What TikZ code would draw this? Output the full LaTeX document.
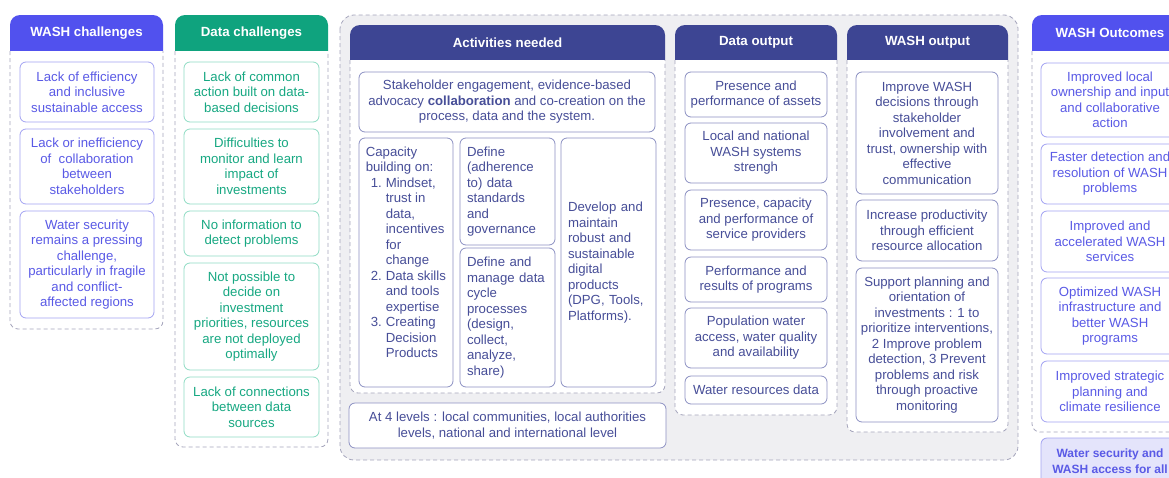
\documentclass[tikz,border=0pt]{standalone}
\usepackage{fontspec}
\setmainfont{Liberation Sans}
\usepackage{tikz}
\usepackage{color}
\definecolor{washblue}{HTML}{5151EE}
\definecolor{washtext}{HTML}{5A5AE6}
\definecolor{washline}{HTML}{A3A3F2}
\definecolor{datagreen}{HTML}{0FA37E}
\definecolor{datatext}{HTML}{17A882}
\definecolor{dataline}{HTML}{8FDCC4}
\definecolor{navy}{HTML}{3D4593}
\definecolor{navytext}{HTML}{474E98}
\definecolor{navyline}{HTML}{8C90C2}
\definecolor{dashgrey}{HTML}{A5A5BC}
\definecolor{panelgrey}{HTML}{EFEFF2}
\definecolor{goalfill}{HTML}{E4E4FB}
\begin{document}
\begin{tikzpicture}[x=1pt, y=-1pt,
        cellbox/.style={draw, fill=white, rounded corners=6pt, line width=0.8pt, align=center, inner sep=3pt, font=\fontsize{13.2}{15.5}\selectfont},
        washbox/.style={cellbox, draw=washline, text=washtext, minimum width=134},
        databox/.style={cellbox, draw=dataline, text=datatext, minimum width=135},
        navybox/.style={cellbox, draw=navyline, text=navytext},
        goalbox/.style={cellbox, draw=washline, fill=goalfill, text=washtext, font=\bfseries\fontsize{12}{15.5}\selectfont},
        headtext/.style={text=white, font=\bfseries\fontsize{13.3}{16}\selectfont},
        colframe/.style={draw=dashgrey, fill=white, line width=0.8pt, dash pattern=on 4pt off 3pt, rounded corners=8pt},
        panel/.style={draw=dashgrey, fill=panelgrey, line width=0.8pt, dash pattern=on 4pt off 3pt, rounded corners=14pt}]
        \useasboundingbox (0, 0) rectangle (1169, 477);
        \clip (0, 0) rectangle (1169, 477);

        % WASH challenges
        \fill [washblue, rounded corners=10pt] (10, 15) rectangle (163, 61);
        \filldraw [colframe] (10, 51) -- (10, 329) -- (163, 329) -- (163, 51);
        \node [headtext] at (86.5, 33) (washhead) {WASH challenges};
        \node [washbox, minimum height=60] at (87, 92) (wc1) {Lack of efficiency\\and inclusive\\sustainable access};
        \node [washbox, minimum height=75] at (87, 166.5) (wc2) {Lack or inefficiency\\of\ \ collaboration\\between\\stakeholders};
        \node [washbox, minimum height=107] at (87, 264.5) (wc3) {Water security\\remains a pressing\\challenge,\\particularly in fragile\\and conflict-\\affected regions};

        % Data challenges
        \fill [datagreen, rounded corners=10pt] (175, 15) rectangle (328, 61);
        \filldraw [colframe] (175, 51) -- (175, 447) -- (328, 447) -- (328, 51);
        \node [headtext] at (251.5, 33) (datahead) {Data challenges};
        \node [databox, minimum height=60] at (251.5, 92) (dc1) {Lack of common\\action built on data-\\based decisions};
        \node [databox, minimum height=75] at (251.5, 166.5) (dc2) {Difficulties to\\monitor and learn\\impact of\\investments};
        \node [databox, minimum height=45] at (251.5, 233.5) (dc3) {No information to\\detect problems};
        \node [databox, minimum height=107] at (251.5, 316.5) (dc4) {Not possible to\\decide on\\investment\\priorities, resources\\are not deployed\\optimally};
        \node [databox, minimum height=60] at (251.5, 407) (dc5) {Lack of connections\\between data\\sources};

        % grey panel behind the three middle columns
        \filldraw [panel] (340, 15) rectangle (1018, 460);

        % Activities needed
        \fill [navy, rounded corners=10pt] (350, 25) rectangle (665, 70);
        \filldraw [colframe] (350, 60) -- (350, 393) -- (665, 393) -- (665, 60);
        \node [headtext] at (507.5, 42.5) (acthead) {Activities needed};
        \node [navybox, minimum width=296, minimum height=60] at (507, 102) (engage) {Stakeholder engagement, evidence-based\\advocacy \textbf{collaboration} and co-creation on the\\process, data and the system.};
        \node [navybox, minimum width=94, minimum height=249] at (406, 262.5) (capacity) {};
        \node [text=navytext, align=left, anchor=north west, inner sep=3pt, font=\fontsize{13.2}{15.5}\selectfont]
            at ([shift={(4, 6)}]capacity.north west) (capacitytext)
            {Capacity\\building on:\\
            \hspace*{5pt}\makebox[15pt][l]{1.}Mindset,\\\hspace*{20pt}trust in\\\hspace*{20pt}data,\\\hspace*{20pt}incentives\\\hspace*{20pt}for\\\hspace*{20pt}change\\
            \hspace*{5pt}\makebox[15pt][l]{2.}Data skills\\\hspace*{20pt}and tools\\\hspace*{20pt}expertise\\
            \hspace*{5pt}\makebox[15pt][l]{3.}Creating\\\hspace*{20pt}Decision\\\hspace*{20pt}Products};
        \node [navybox, align=left, text width=81, minimum width=95, minimum height=107] at (507.5, 191.5) (standards) {Define\\(adherence\\to) data\\standards\\and\\governance};
        \node [navybox, align=left, text width=81, minimum width=95, minimum height=139] at (507.5, 317.5) (cycle) {Define and\\manage data\\cycle\\processes\\(design,\\collect,\\analyze,\\share)};
        \node [navybox, align=left, text width=81, minimum width=95, minimum height=249] at (608.5, 262.5) (products) {Develop and\\maintain\\robust and\\sustainable\\digital\\products\\(DPG, Tools,\\Platforms).};
        \node [navybox, minimum width=317, minimum height=45] at (507.5, 425.5) (levels) {At 4 levels : local communities, local authorities\\levels, national and international level};

        % Data output
        \fill [navy, rounded corners=10pt] (675, 25) rectangle (837, 70);
        \filldraw [colframe] (675, 60) -- (675, 415) -- (837, 415) -- (837, 60);
        \node [headtext] at (756, 42.5) (dohead) {Data output};
        \node [navybox, minimum width=142, minimum height=45] at (756, 94.5) (do1) {Presence and\\performance of assets};
        \node [navybox, minimum width=142, minimum height=60] at (756, 153) (do2) {Local and national\\WASH systems\\strengh};
        \node [navybox, minimum width=142, minimum height=60] at (756, 220) (do3) {Presence, capacity\\and performance of\\service providers};
        \node [navybox, minimum width=142, minimum height=45] at (756, 279.5) (do4) {Performance and\\results of programs};
        \node [navybox, minimum width=142, minimum height=60] at (756, 338) (do5) {Population water\\access, water quality\\and availability};
        \node [navybox, minimum width=142, minimum height=28] at (756, 390) (do6) {Water resources data};

        % WASH output
        \fill [navy, rounded corners=10pt] (847, 25) rectangle (1008, 70);
        \filldraw [colframe] (847, 60) -- (847, 432) -- (1008, 432) -- (1008, 60);
        \node [headtext] at (927.5, 42.5) (wohead) {WASH output};
        \node [navybox, minimum width=142, minimum height=122] at (927, 133) (wo1) {Improve WASH\\decisions through\\stakeholder\\involvement and\\trust, ownership with\\effective\\communication};
        \node [navybox, minimum width=142, minimum height=61] at (927, 230.5) (wo2) {Increase productivity\\through efficient\\resource allocation};
        \node [navybox, minimum width=142, minimum height=154] at (927, 345) (wo3) {Support planning and\\orientation of\\investments : 1 to\\prioritize interventions,\\2 Improve problem\\detection, 3 Prevent\\problems and risk\\through proactive\\monitoring};

        % WASH Outcomes
        \fill [washblue, rounded corners=10pt] (1032, 15) rectangle (1188, 61);
        \filldraw [colframe] (1032, 51) -- (1032, 432) -- (1188, 432) -- (1188, 51);
        \node [headtext] at (1110, 33) (outhead) {WASH Outcomes};
        \node [washbox, minimum width=138, minimum height=74] at (1110, 100) (oc1) {Improved local\\ownership and input\\and collaborative\\action};
        \node [washbox, minimum width=138, minimum height=60] at (1110, 174) (oc2) {Faster detection and\\resolution of WASH\\problems};
        \node [washbox, minimum width=138, minimum height=61] at (1110, 241.5) (oc3) {Improved and\\accelerated WASH\\services};
        \node [washbox, minimum width=138, minimum height=76] at (1110, 316) (oc4) {Optimized WASH\\infrastructure and\\better WASH\\programs};
        \node [washbox, minimum width=138, minimum height=61] at (1110, 391.5) (oc5) {Improved strategic\\planning and\\climate resilience};
        \node [goalbox, minimum width=138, minimum height=46] at (1110, 461) (goal) {Water security and\\WASH access for all};
    \end{tikzpicture}
\end{document}
